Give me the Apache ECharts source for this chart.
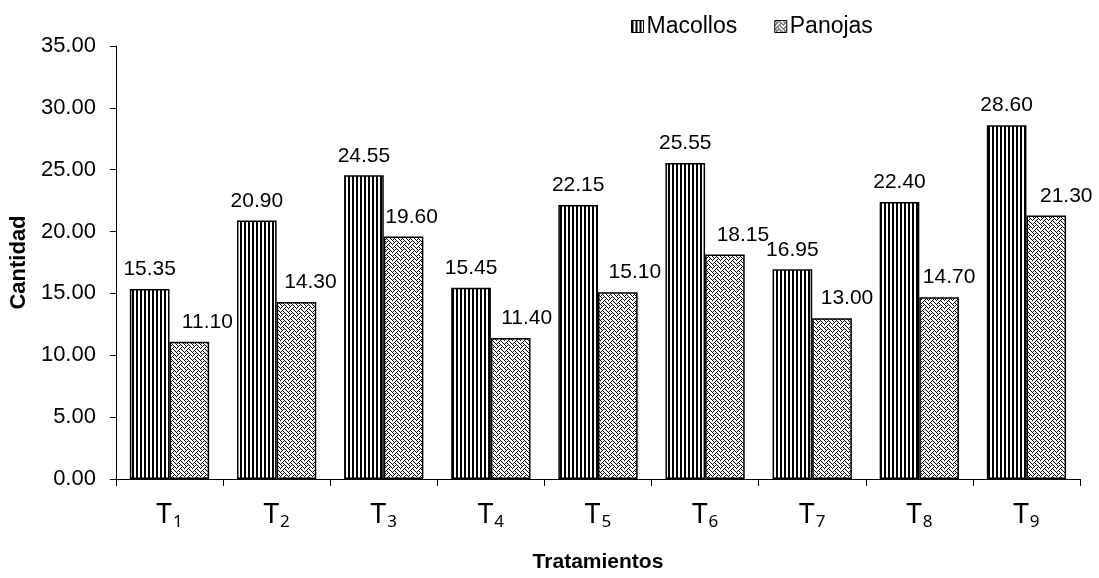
<!DOCTYPE html>
<html>
<head>
<meta charset="utf-8">
<script src="https://cdn.jsdelivr.net/npm/echarts@6/dist/echarts.min.js"></script>
<style>
  html, body { margin: 0; padding: 0; background: #fff; }
  #chart { width: 1099px; height: 578px; }
</style>
</head>
<body>
<div id="chart"></div>
<script>
// Treatment labels (T + subscript index)
const categories = ['T1', 'T2', 'T3', 'T4', 'T5', 'T6', 'T7', 'T8', 'T9'];
// Mean counts per treatment
const macollos = [15.35, 20.90, 24.55, 15.45, 22.15, 25.55, 16.95, 22.40, 28.60];
const panojas  = [11.10, 14.30, 19.60, 11.40, 15.10, 18.15, 13.00, 14.70, 21.30];
const seriesNames = ['Macollos', 'Panojas'];
// Horizontal nudge (px) of each Panojas value label
const panojasLabelShift = [18, 14, 8, 16, 17, 18, 15, 10, 20];

// Vertical black/white stripe fill
function stripePattern() {
  const c = document.createElement('canvas');
  c.width = 4; c.height = 4;
  const g = c.getContext('2d');
  g.fillStyle = '#fff'; g.fillRect(0, 0, 4, 4);
  g.fillStyle = '#000'; g.fillRect(0, 0, 2, 4);
  return { image: c, repeat: 'repeat' };
}

// Woven zig-zag fill built from an 8x8 bitmap
function weavePattern() {
  const rows = [
    '10001000',
    '01010100',
    '00100010',
    '01000101',
    '10001000',
    '00010100',
    '00100010',
    '01010001'
  ];
  const c = document.createElement('canvas');
  c.width = 8; c.height = 8;
  const g = c.getContext('2d');
  g.fillStyle = '#fff'; g.fillRect(0, 0, 8, 8);
  g.fillStyle = '#000';
  rows.forEach((r, y) => {
    for (let x = 0; x < 8; x++) if (r[x] === '1') g.fillRect(x, y, 1, 1);
  });
  return { image: c, repeat: 'repeat' };
}

const FONT = '"Liberation Sans", Arial, sans-serif';
const chart = echarts.init(document.getElementById('chart'), null, { renderer: 'canvas' });

const baseLabel = {
  show: true,
  position: 'top',
  distance: 9,
  color: '#000',
  fontFamily: FONT,
  fontSize: 21,
  formatter: p => p.value.toFixed(2)
};

chart.setOption({
  animation: false,
  backgroundColor: '#fff',
  grid: { left: 108, right: 19, top: 46, bottom: 93, containLabel: false },
  legend: {
    data: seriesNames,
    left: 626,
    top: 10,
    itemWidth: 12,
    itemHeight: 12,
    itemGap: 37,
    icon: 'rect',
    itemStyle: { borderColor: '#000', borderWidth: 1 },
    textStyle: { fontFamily: FONT, fontSize: 23, color: '#000', padding: [0, 0, 0, -2] }
  },
  xAxis: {
    type: 'category',
    data: categories,
    name: 'Tratamientos',
    nameLocation: 'middle',
    nameGap: 73,
    nameTextStyle: { fontFamily: FONT, fontSize: 21, fontWeight: 'bold', color: '#000' },
    axisLine: { lineStyle: { color: '#000', width: 1 } },
    axisTick: { show: true, alignWithLabel: false, length: 7, lineStyle: { color: '#000' } },
    axisLabel: {
      margin: 21,
      formatter: v => '{t|' + v[0] + '}{s|' + v.slice(1) + '}',
      rich: {
        t: { fontFamily: '"Noto Sans", "DejaVu Sans", sans-serif', fontSize: 28, color: '#000' },
        s: { fontFamily: '"Noto Sans", "DejaVu Sans", sans-serif', fontSize: 17, color: '#000', verticalAlign: 'bottom', padding: [14, 0, 0, 1] }
      }
    }
  },
  yAxis: {
    type: 'value',
    min: 0,
    max: 35,
    interval: 5,
    name: 'Cantidad',
    nameLocation: 'middle',
    nameRotate: 90,
    nameGap: 70,
    nameTextStyle: { fontFamily: FONT, fontSize: 22, fontWeight: 'bold', color: '#000' },
    axisLine: { show: true, lineStyle: { color: '#000', width: 1 } },
    axisTick: { show: true, length: 6, lineStyle: { color: '#000' } },
    splitLine: { show: false },
    axisLabel: {
      margin: 20,
      fontFamily: FONT,
      fontSize: 22,
      color: '#000',
      formatter: v => v.toFixed(2)
    }
  },
  series: [
    {
      name: seriesNames[0],
      type: 'bar',
      data: macollos,
      barGap: '0%',
      barCategoryGap: '26%',
      itemStyle: { color: stripePattern(), borderColor: '#000', borderWidth: 1.5 },
      label: baseLabel
    },
    {
      name: seriesNames[1],
      type: 'bar',
      data: panojas.map((v, i) => ({
        value: v,
        label: { offset: [panojasLabelShift[i], 0] }
      })),
      barGap: '0%',
      barCategoryGap: '26%',
      itemStyle: { color: weavePattern(), borderColor: '#000', borderWidth: 1.5 },
      label: baseLabel
    }
  ]
});
</script>
</body>
</html>
